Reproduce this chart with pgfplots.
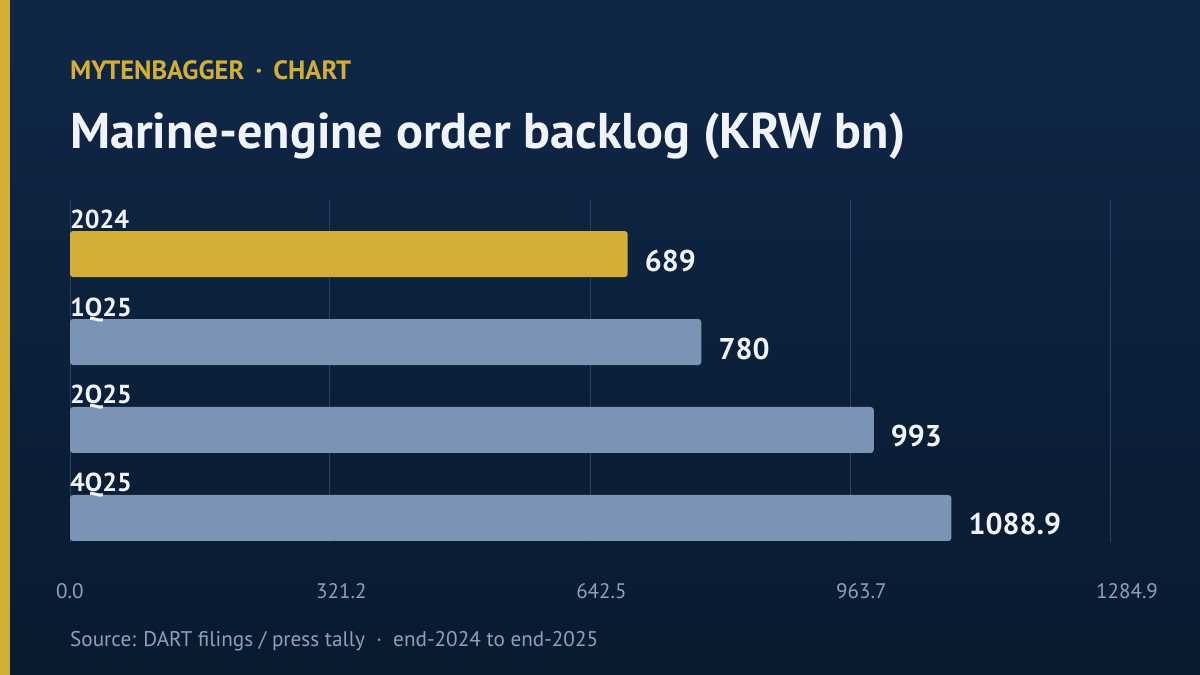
\documentclass[border=0pt]{standalone}
\usepackage{pgfplots}
\pgfplotsset{compat=1.18}
\usepackage{fontspec}
\setmainfont{PT Sans}
\definecolor{bgtop}{HTML}{0F2747}
\definecolor{bgbot}{HTML}{0A1A2F}
\definecolor{gold}{HTML}{D4AF37}
\definecolor{barblue}{HTML}{7B93B5}
\definecolor{txt}{HTML}{F0F4FA}
\definecolor{tickc}{HTML}{8FA0BA}
\definecolor{gridc}{HTML}{2A4264}
\tikzset{catlab/.style={anchor=base west, inner sep=0pt, text=txt, font=\fontsize{26bp}{28bp}\selectfont\bfseries, yshift=26bp}}
\begin{document}
\begin{tikzpicture}[x=1bp,y=1bp]
\shade[top color=bgtop,bottom color=bgbot] (0,0) rectangle (1200,675);
\fill[gold] (0,0) rectangle (10,675);
\useasboundingbox (0,0) rectangle (1200,675);
\node[anchor=base west, inner sep=0, text=gold, font=\fontsize{26.5bp}{30bp}\selectfont\bfseries] at (70,595) {MYTENBAGGER \,·\, CHART};
\node[anchor=base west, inner sep=0, text=txt, font=\fontsize{50.2bp}{60bp}\selectfont\bfseries] at (70,526) {Marine-engine order backlog (KRW bn)};
\node[anchor=base west, inner sep=0, text=tickc, font=\fontsize{21.2bp}{24bp}\selectfont] at (70,28) {Source: DART filings / press tally \ · \ end-2024 to end-2025};
\begin{axis}[at={(70bp,133bp)}, anchor=south west, scale only axis,
  width=1040bp, height=342bp,
  xbar, bar width=46bp, bar shift=0pt,
  xmin=0, xmax=1284.9, ymin=-0.614, ymax=3.273, y dir=reverse,
  axis line style={draw=none}, major tick style={draw=none},
  ytick=\empty, xtick={0,321.2,642.5,963.7,1284.9},
  xmajorgrids, grid style={gridc, line width=1bp},
  xticklabel style={text=tickc, font=\fontsize{21bp}{24bp}\selectfont, anchor=base west, xshift=-14bp, yshift=-57bp, inner sep=0pt},
  xticklabel={\pgfmathprintnumber[fixed, precision=1, fixed zerofill, 1000 sep={}, assume math mode=true]{\tick}},
  clip=false,
  nodes near coords={\pgfmathprintnumber[1000 sep={}, assume math mode=true]{\pgfplotspointmeta}},
  every node near coord/.append style={anchor=base west, xshift=17bp, yshift=-17bp, inner sep=0pt, text=txt, font=\fontsize{30bp}{32bp}\selectfont\bfseries},
]
\addplot[fill=gold, draw=none, rounded corners=3bp] coordinates {(689,0)};
\addplot[fill=barblue, draw=none, rounded corners=3bp] coordinates {(780,1) (993,2) (1088.9,3)};
\node[catlab] at (axis cs:0,0) {2024};
\node[catlab] at (axis cs:0,1) {1Q25};
\node[catlab] at (axis cs:0,2) {2Q25};
\node[catlab] at (axis cs:0,3) {4Q25};
\end{axis}
\end{tikzpicture}
\end{document}
